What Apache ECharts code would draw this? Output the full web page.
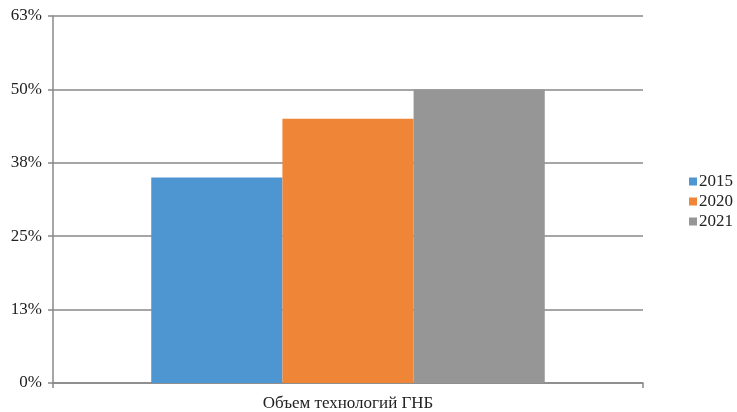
<!DOCTYPE html>
<html>
<head>
<meta charset="utf-8">
<script src="https://cdn.jsdelivr.net/npm/echarts@6/dist/echarts.min.js"></script>
<style>
html,body{margin:0;padding:0;background:#fff;}
#c{width:737px;height:412px;}
</style>
</head>
<body>
<div id="c"></div>
<script>
const categories = ['Объем технологий ГНБ'];
const seriesNames = ['2015', '2020', '2021'];
const values2015 = [35];
const values2020 = [45];
const values2021 = [50];
const colors = ['#4e96d1', '#ef8536', '#969696'];

const chart = echarts.init(document.getElementById('c'), null, {renderer: 'canvas'});
const font = 'Liberation Serif';
const dataSets = [values2015, values2020, values2021];
chart.setOption({
  animation: false,
  grid: {left: 53, right: 94, top: 16, bottom: 28, containLabel: false},
  legend: {
    orient: 'vertical',
    left: 684, top: 168,
    itemWidth: 8, itemHeight: 8, itemGap: 3,
    icon: 'rect',
    textStyle: {fontFamily: font, fontSize: 17, color: '#222', padding: [0,0,0,-3]},
    data: seriesNames
  },
  xAxis: {
    type: 'category',
    data: categories,
    axisLine: {lineStyle: {color: '#888', width: 1.5}},
    axisTick: {show: true, length: 5, lineStyle: {color: '#888', width: 1.5}},
    axisLabel: {fontFamily: font, fontSize: 17, color: '#222', margin: 12}
  },
  yAxis: {
    type: 'value',
    min: 0, max: 62.5, interval: 12.5,
    axisLine: {show: true, lineStyle: {color: '#888', width: 1.5}},
    axisTick: {show: true, length: 5, lineStyle: {color: '#888', width: 1.5}},
    splitLine: {show: true, lineStyle: {color: '#888', width: 1.5}},
    axisLabel: {fontFamily: font, fontSize: 17, color: '#222', margin: 11,
      formatter: v => Math.round(v) + '%'}
  },
  series: seriesNames.map((n, i) => ({
    name: n,
    type: 'bar',
    data: dataSets[i],
    itemStyle: {color: colors[i]},
    barGap: '0%',
    barCategoryGap: '33.3%'
  }))
});
</script>
</body>
</html>
